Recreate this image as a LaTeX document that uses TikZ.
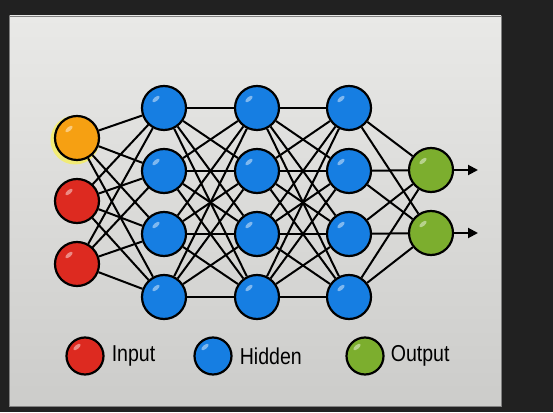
\documentclass[tikz,border=0pt]{standalone}
\usepackage{fontspec}
\setmainfont{Liberation Sans}
\newfontfamily\keyfont[FakeStretch=0.85]{Liberation Sans}
\usetikzlibrary{positioning,arrows.meta}

\definecolor{screen}{RGB}{33,33,33}
\definecolor{boardtop}{RGB}{233,233,231}
\definecolor{boardbot}{RGB}{204,204,202}
\definecolor{inred}{RGB}{221,42,32}
\definecolor{inorange}{RGB}{246,160,18}
\definecolor{hidblue}{RGB}{22,126,226}
\definecolor{outgreen}{RGB}{124,174,46}

\tikzstyle{n} = [circle, draw=black, line width=2.2pt, minimum size=44pt, inner sep=0pt,
  path picture={\fill[white, opacity=.45] ([xshift=-8pt, yshift=9pt]path picture bounding box.center) ellipse [x radius=4.5pt, y radius=2pt, rotate=40];}]
\tikzstyle{key} = [n, minimum size=37pt]
\tikzstyle{w} = [line width=2pt]
\tikzstyle{outarrow} = [w, -{Triangle[length=10pt, width=10pt]}]
\tikzstyle{t} = [font=\keyfont\fontsize{23}{25}\selectfont, inner sep=0pt]

\begin{document}
\begin{tikzpicture}[x=1pt, y=1pt]
\fill [screen] (0,0) rectangle (553,412);
\shade [top color=boardtop, bottom color=boardbot, draw=gray, line width=.8pt] (9.5,6) rectangle (501,396);
\fill [yellow!80, opacity=.6] (75,272) circle (24.5pt);
% input layer
\node [n, fill=inorange] (i1) at (77,274) {};
\node [n, fill=inred, below of=i1, node distance=63pt] (i2) {};
\node [n, fill=inred, below of=i2, node distance=63pt] (i3) {};
% hidden layers
\node [n, fill=hidblue] (a1) at (164,304) {};
\node [n, fill=hidblue, below of=a1, node distance=63pt] (a2) {};
\node [n, fill=hidblue, below of=a2, node distance=63pt] (a3) {};
\node [n, fill=hidblue, below of=a3, node distance=63pt] (a4) {};
\node [n, fill=hidblue, right of=a1, node distance=93pt] (b1) {};
\node [n, fill=hidblue, right of=a2, node distance=93pt] (b2) {};
\node [n, fill=hidblue, right of=a3, node distance=93pt] (b3) {};
\node [n, fill=hidblue, right of=a4, node distance=93pt] (b4) {};
\node [n, fill=hidblue, right of=b1, node distance=92pt] (c1) {};
\node [n, fill=hidblue, right of=b2, node distance=92pt] (c2) {};
\node [n, fill=hidblue, right of=b3, node distance=92pt] (c3) {};
\node [n, fill=hidblue, right of=b4, node distance=92pt] (c4) {};
% output layer
\node [n, fill=outgreen] (o1) at (431,242) {};
\node [n, fill=outgreen, below of=o1, node distance=63pt] (o2) {};
\coordinate [right of=o1, node distance=47pt] (y1);
\coordinate [right of=o2, node distance=47pt] (y2);
% weights
\foreach \s in {1,2,3}
  \foreach \d in {1,2,3,4}
    \draw [w] (i\s) -- (a\d);
\foreach \s in {1,2,3,4}
  \foreach \d in {1,2,3,4} {
    \draw [w] (a\s) -- (b\d);
    \draw [w] (b\s) -- (c\d);
  }
\foreach \s in {1,2,3,4}
  \foreach \d in {1,2}
    \draw [w] (c\s) -- (o\d);
\draw [outarrow] (o1) -- (y1);
\draw [outarrow] (o2) -- (y2);
% legend
\node [key, fill=inred] (k1) at (85,56) {};
\node [t, right=7pt of k1] (l1) {Input};
\node [key, fill=hidblue] (k2) at (213,56) {};
\node [t, right=7pt of k2] (l2) {Hidden};
\node [key, fill=outgreen] (k3) at (365,56) {};
\node [t, right=6pt of k3] (l3) {Output};
\end{tikzpicture}
\end{document}
